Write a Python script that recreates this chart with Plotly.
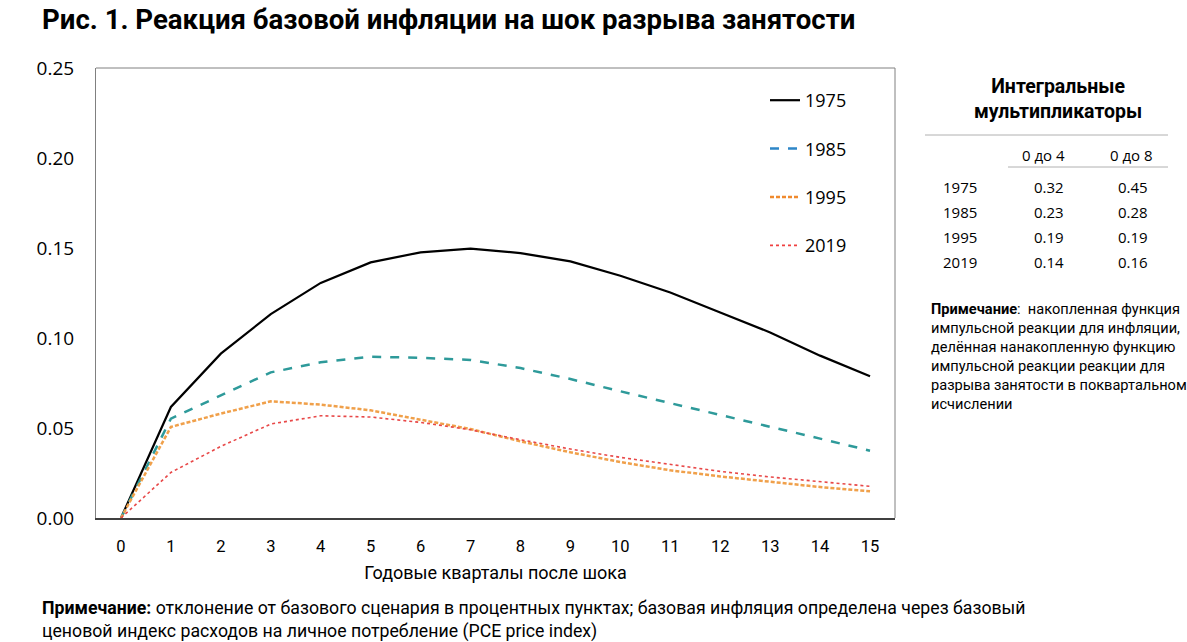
import plotly.graph_objects as go

quarters = list(range(16))
y1975 = [0, 0.0617, 0.0913, 0.1133, 0.1306, 0.1420, 0.1476, 0.1496, 0.1472, 0.1426, 0.1346, 0.1253, 0.1142, 0.1031, 0.0902, 0.0787]
y1985 = [0, 0.0552, 0.0681, 0.0809, 0.0865, 0.0896, 0.0890, 0.0878, 0.0833, 0.0772, 0.0704, 0.0639, 0.0574, 0.0509, 0.0441, 0.0374]
y1995 = [0, 0.0506, 0.0580, 0.0648, 0.0630, 0.0598, 0.0546, 0.0494, 0.0426, 0.0365, 0.0311, 0.0265, 0.0231, 0.0200, 0.0172, 0.0148]
y2019 = [0, 0.0253, 0.0398, 0.0522, 0.0568, 0.0561, 0.0531, 0.0490, 0.0435, 0.0383, 0.0337, 0.0296, 0.0259, 0.0228, 0.0200, 0.0176]
yticks = [0, 0.05, 0.10, 0.15, 0.20, 0.25]

table_years = ["1975", "1985", "1995", "2019"]
mult_0_4 = ["0.32", "0.23", "0.19", "0.14"]
mult_0_8 = ["0.45", "0.28", "0.19", "0.16"]

title = "Рис. 1. Реакция базовой инфляции на шок разрыва занятости"
xtitle = "Годовые кварталы после шока"
note_bottom = ("<b>Примечание:</b> отклонение от базового сценария в процентных пунктах; базовая инфляция определена через базовый"
               "<br>ценовой индекс расходов на личное потребление (PCE price index)")
note_right = ("<b>Примечание</b>:  накопленная функция<br>импульсной реакции для инфляции,<br>"
              "делённая нанакопленную функцию<br>импульсной реакции реакции для<br>"
              "разрыва занятости в поквартальном<br>исчислении")

series = [
    ("1975", y1975, "#000000", "#000000", "solid", 2.2),
    ("1985", y1985, "#2E9A9A", "#2E86C8", "dash", 2.5),
    ("1995", y1995, "#F0A04A", "#F08A2E", "4px,2px", 2.5),
    ("2019", y2019, "#E84848", "#F04040", "dot", 1.6),
]

fig = go.Figure()
for name, ys, col, lcol, dash, w in series:
    fig.add_trace(go.Scatter(x=quarters, y=ys, mode="lines", name=name, showlegend=False,
                             line=dict(color=col, dash=dash, width=w)))
for name, ys, col, lcol, dash, w in series:
    fig.add_trace(go.Scatter(x=[None], y=[None], mode="lines", name=name, legendgroup=name,
                             line=dict(color=lcol, dash=dash, width=w)))

L, R, T, B = 96, 895, 68, 518
W, H = 1187, 642
pw, ph = R - L, B - T

def px(x):
    return (x - L) / pw

def py(y):
    return (B - y) / ph

fig.update_layout(
    width=W, height=H,
    margin=dict(l=L, r=W - R, t=T, b=H - B),
    paper_bgcolor="white", plot_bgcolor="white",
    showlegend=True,
    legend=dict(x=px(765), y=py(82), xanchor="left", yanchor="top",
                font=dict(family="Open Sans", size=18, color="#000"),
                traceorder="grouped", tracegroupgap=22, bgcolor="rgba(0,0,0,0)",
                itemwidth=30),
    xaxis=dict(range=[-0.5, 15.5], tickvals=quarters, ticks="", showgrid=False, zeroline=False,
               showline=True, linecolor="#404040", linewidth=1.5, mirror=False,
               tickfont=dict(family="Roboto", size=16.5, color="#000"), ticklabelstandoff=12,
               title=dict(text=xtitle, font=dict(family="Roboto", size=18, color="#000"), standoff=12)),
    yaxis=dict(range=[0, 0.25], tickvals=yticks, tickformat=".2f", ticks="", showgrid=False,
               zeroline=False, showline=True, linecolor="#808080", linewidth=1, mirror=False,
               tickfont=dict(family="Open Sans", size=19, color="#000"), ticklabelstandoff=17),
)

shapes = [
    dict(type="line", xref="paper", yref="paper", x0=0, x1=1, y0=1, y1=1, line=dict(color="#808080", width=1)),
    dict(type="line", xref="paper", yref="paper", x0=1, x1=1, y0=0, y1=1, line=dict(color="#808080", width=1)),
    dict(type="line", xref="paper", yref="paper", x0=px(925), x1=px(1168), y0=py(135), y1=py(135), line=dict(color="#B0B0B0", width=1)),
    dict(type="line", xref="paper", yref="paper", x0=px(1008), x1=px(1168), y0=py(167), y1=py(167), line=dict(color="#B0B0B0", width=1)),
]
fig.update_layout(shapes=shapes)

ann = []
ann.append(dict(text="<b>" + title + "</b>", x=px(40), y=py(19), xref="paper", yref="paper", xanchor="left",
                yanchor="middle", showarrow=False, font=dict(family="Roboto", size=27.6, color="#000")))
ann.append(dict(text="<b>Интегральные<br>мультипликаторы</b>", x=px(1058), y=py(99), xref="paper", yref="paper",
                xanchor="center", yanchor="middle", showarrow=False,
                font=dict(family="Roboto", size=19.5, color="#000")))
tf = dict(family="Open Sans", size=15, color="#000")
ann.append(dict(text="0 до 4", x=px(1043), y=py(155), xref="paper", yref="paper", xanchor="center",
                yanchor="middle", showarrow=False, font=tf))
ann.append(dict(text="0 до 8", x=px(1131), y=py(155), xref="paper", yref="paper", xanchor="center",
                yanchor="middle", showarrow=False, font=tf))
for i, (yr, a, b) in enumerate(zip(table_years, mult_0_4, mult_0_8)):
    yy = 187 + 25 * i
    ann.append(dict(text=yr, x=px(960), y=py(yy), xref="paper", yref="paper", xanchor="center",
                    yanchor="middle", showarrow=False, font=tf))
    ann.append(dict(text=a, x=px(1049), y=py(yy), xref="paper", yref="paper", xanchor="center",
                    yanchor="middle", showarrow=False, font=tf))
    ann.append(dict(text=b, x=px(1133), y=py(yy), xref="paper", yref="paper", xanchor="center",
                    yanchor="middle", showarrow=False, font=tf))
ann.append(dict(text=note_right, x=px(929), y=py(298), xref="paper", yref="paper", xanchor="left",
                yanchor="top", align="left", showarrow=False,
                font=dict(family="Roboto", size=14.6, color="#000")))
ann.append(dict(text=note_bottom, x=px(40), y=py(596), xref="paper", yref="paper", xanchor="left",
                yanchor="top", align="left", showarrow=False,
                font=dict(family="Roboto", size=17.7, color="#000")))
fig.update_layout(annotations=ann)

fig.write_html("out.html", config={"displayModeBar": False},
               post_script="document.body.style.margin='0';")
